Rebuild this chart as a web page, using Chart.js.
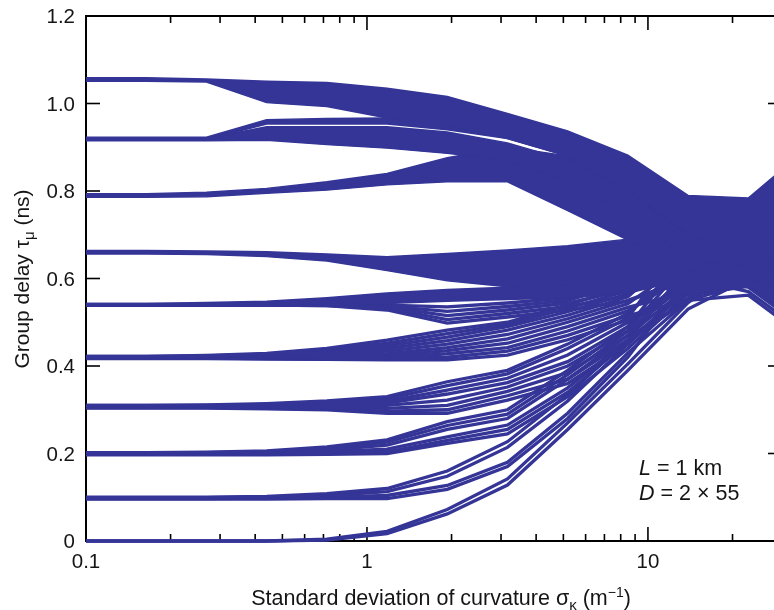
<!DOCTYPE html>
<html><head><meta charset="utf-8">
<script src="https://cdn.jsdelivr.net/npm/chart.js@4.4.1/dist/chart.umd.min.js"></script>
<style>
html,body{margin:0;padding:0;background:#fff;overflow:hidden;width:774px;height:610px;}
#wrap{position:relative;width:790px;height:610px;}
canvas{display:block;}
</style></head><body>
<div id="wrap"><canvas id="c" width="790" height="610"></canvas></div>
<script>
// ---- data (sigma_kappa in 1/m, group delays in ns) ----
const sigma = [0.1, 0.1638, 0.2683, 0.4394, 0.7197, 1.1788, 1.9307, 3.1623, 5.1795, 8.4834, 13.895, 22.758, 37.276];

// mode groups drawn as solid bundles (upper / lower edge of bundle)
const g9Top  = [1.059,1.059,1.056,1.051,1.048,1.035,1.016,0.977,0.937,0.882,0.790,0.784,0.900];
const g9Bot  = [1.051,1.051,1.049,1.002,0.993,0.967,0.950,0.920,0.880,0.800,0.700,0.660,0.600];
const g8aTop = [0.923,0.923,0.923,0.963,0.966,0.967,0.958,0.940,0.910,0.860,0.770,0.750,0.880];
const g8aBot = [0.918,0.918,0.918,0.953,0.953,0.953,0.940,0.920,0.880,0.820,0.700,0.680,0.700];
const g8bTop = [0.920,0.920,0.920,0.947,0.947,0.947,0.935,0.910,0.870,0.800,0.700,0.700,0.720];
const g8bBot = [0.915,0.915,0.915,0.916,0.906,0.898,0.886,0.870,0.820,0.750,0.640,0.630,0.600];
const g7Top  = [0.794,0.794,0.797,0.806,0.821,0.840,0.876,0.900,0.880,0.840,0.760,0.740,0.860];
const g7Bot  = [0.786,0.786,0.787,0.795,0.802,0.814,0.821,0.821,0.755,0.688,0.620,0.600,0.550];
const g6Top  = [0.664,0.664,0.663,0.661,0.656,0.650,0.657,0.665,0.675,0.690,0.780,0.760,0.820];
const g6Bot  = [0.656,0.656,0.655,0.650,0.640,0.618,0.595,0.581,0.585,0.600,0.560,0.580,0.500];
const g5Top  = [0.543,0.543,0.545,0.548,0.556,0.567,0.575,0.580,0.590,0.630,0.720,0.750,0.850];
const g5Bot  = [0.537,0.537,0.537,0.538,0.540,0.543,0.548,0.552,0.556,0.566,0.600,0.620,0.550];

// individual mode curves, group 5 (lower strands)
const g5A = [0.539,0.539,0.539,0.539,0.538,0.528,0.498,0.512,0.528,0.548,0.600,0.660,0.640];
const g5B = [0.539,0.539,0.539,0.539,0.538,0.532,0.506,0.520,0.536,0.560,0.680,0.630,0.520];
const g5C = [0.540,0.540,0.540,0.540,0.539,0.535,0.515,0.528,0.544,0.575,0.650,0.700,0.720];
const g5D = [0.540,0.540,0.540,0.540,0.539,0.537,0.525,0.536,0.550,0.590,0.620,0.590,0.480];
const g5E = [0.541,0.541,0.541,0.541,0.540,0.539,0.535,0.544,0.556,0.600,0.700,0.680,0.600];
// group 4
const g4A = [0.422,0.422,0.424,0.429,0.440,0.459,0.482,0.500,0.540,0.580,0.660,0.720,0.780];
const g4B = [0.422,0.422,0.423,0.427,0.436,0.452,0.474,0.495,0.532,0.572,0.700,0.760,0.840];
const g4C = [0.421,0.421,0.422,0.425,0.432,0.446,0.466,0.490,0.524,0.565,0.630,0.680,0.620];
const g4D = [0.421,0.421,0.421,0.423,0.428,0.440,0.458,0.482,0.516,0.558,0.680,0.650,0.560];
const g4E = [0.420,0.420,0.420,0.421,0.425,0.434,0.450,0.472,0.508,0.550,0.600,0.600,0.500];
const g4F = [0.420,0.420,0.420,0.420,0.422,0.428,0.442,0.462,0.500,0.542,0.640,0.700,0.740];
const g4G = [0.419,0.419,0.419,0.419,0.420,0.423,0.435,0.452,0.490,0.534,0.570,0.640,0.700];
const g4H = [0.419,0.419,0.418,0.418,0.418,0.419,0.428,0.442,0.480,0.526,0.610,0.580,0.480];
const g4I = [0.418,0.418,0.418,0.417,0.416,0.416,0.420,0.434,0.470,0.515,0.550,0.590,0.580];
const g4J = [0.417,0.417,0.417,0.416,0.415,0.414,0.414,0.425,0.460,0.505,0.590,0.670,0.650];
// group 3
const g3A = [0.310,0.310,0.311,0.314,0.320,0.330,0.364,0.390,0.450,0.520,0.640,0.680,0.800];
const g3B = [0.310,0.310,0.310,0.312,0.317,0.325,0.355,0.382,0.440,0.510,0.700,0.720,0.660];
const g3C = [0.309,0.309,0.309,0.310,0.314,0.320,0.345,0.372,0.425,0.500,0.600,0.620,0.560];
const g3D = [0.308,0.308,0.308,0.308,0.311,0.315,0.336,0.362,0.410,0.490,0.660,0.760,0.860];
const g3E = [0.307,0.307,0.307,0.306,0.308,0.310,0.322,0.352,0.400,0.480,0.590,0.710,0.700];
const g3F = [0.306,0.306,0.306,0.305,0.305,0.303,0.310,0.342,0.385,0.470,0.620,0.590,0.540];
const g3G = [0.305,0.305,0.305,0.303,0.302,0.297,0.300,0.332,0.370,0.460,0.550,0.562,0.460];
const g3H = [0.304,0.304,0.304,0.302,0.300,0.292,0.292,0.322,0.360,0.450,0.575,0.660,0.600];
// group 2
const g2A = [0.202,0.202,0.203,0.206,0.215,0.231,0.273,0.300,0.390,0.490,0.600,0.700,0.620];
const g2B = [0.201,0.201,0.202,0.204,0.211,0.226,0.264,0.290,0.380,0.480,0.640,0.740,0.800];
const g2C = [0.200,0.200,0.200,0.202,0.208,0.219,0.255,0.280,0.370,0.470,0.580,0.650,0.750];
const g2D = [0.199,0.199,0.199,0.200,0.204,0.210,0.238,0.265,0.350,0.460,0.620,0.600,0.500];
const g2E = [0.198,0.198,0.198,0.198,0.200,0.204,0.230,0.255,0.340,0.455,0.555,0.680,0.720];
const g2F = [0.197,0.197,0.197,0.197,0.198,0.200,0.223,0.245,0.330,0.440,0.565,0.630,0.660];
// group 1
const g1A = [0.100,0.100,0.100,0.102,0.108,0.120,0.160,0.227,0.335,0.460,0.570,0.620,0.520];
const g1B = [0.099,0.099,0.099,0.100,0.104,0.113,0.148,0.214,0.320,0.450,0.585,0.700,0.760];
const g1C = [0.097,0.097,0.097,0.098,0.100,0.104,0.127,0.180,0.292,0.430,0.550,0.660,0.680];
const g1D = [0.096,0.096,0.096,0.096,0.097,0.097,0.118,0.170,0.280,0.420,0.600,0.570,0.470];
// group 0
const g0A = [0,0,0,0,0.002,0.017,0.062,0.128,0.255,0.390,0.530,0.600,0.560];
const g0B = [0,0,0,0,0.004,0.022,0.072,0.142,0.270,0.405,0.545,0.640,0.610];

// ticks
const xTickValues = [0.1, 1, 10];
const xTickLabels = ['0.1', '1', '10'];
const xMinorTicks = [0.2,0.3,0.4,0.5,0.6,0.7,0.8,0.9,2,3,4,5,6,7,8,9,20,30];
const yTickValues = [0, 0.2, 0.4, 0.6, 0.8, 1.0, 1.2];
const yTickLabels = ['0', '0.2', '0.4', '0.6', '0.8', '1.0', '1.2'];

// ---- build ----
const BLUE = '#343597';
const FONT = '"Liberation Sans", Arial, Helvetica, sans-serif';
const pts = arr => sigma.map((s, i) => ({x: s, y: arr[i]}));

const bands = [[g9Top,g9Bot],[g8aTop,g8aBot],[g8bTop,g8bBot],[g7Top,g7Bot],[g6Top,g6Bot],[g5Top,g5Bot]];
const lines = [g5A,g5B,g5C,g5D,g5E,
  g4A,g4B,g4C,g4D,g4E,g4F,g4G,g4H,g4I,g4J,
  g3A,g3B,g3C,g3D,g3E,g3F,g3G,g3H,
  g2A,g2B,g2C,g2D,g2E,g2F,
  g1A,g1B,g1C,g1D,
  g0A,g0B];

const datasets = [];
bands.forEach(([t, b]) => {
  datasets.push({data: pts(t), borderColor: BLUE, borderWidth: 1.5, fill: false, pointRadius: 0, tension: 0, clip: 4});
  datasets.push({data: pts(b), borderColor: BLUE, backgroundColor: BLUE, borderWidth: 1.5, fill: '-1', pointRadius: 0, tension: 0, clip: 4});
});
lines.forEach(l => datasets.push({data: pts(l), borderColor: BLUE, borderWidth: 3.3, fill: false, pointRadius: 0, tension: 0, clip: 4}));

function seg(ctx, x1, y1, x2, y2){ ctx.beginPath(); ctx.moveTo(x1,y1); ctx.lineTo(x2,y2); ctx.stroke(); }

function richText(ctx, parts, x, y, align){
  // parts: [text, size, dy, style]
  let total = 0;
  parts.forEach(p => { ctx.font = (p[3]||'') + ' ' + p[1] + 'px ' + FONT; total += ctx.measureText(p[0]).width; });
  let cx = align === 'center' ? x - total/2 : x;
  ctx.textAlign = 'left'; ctx.textBaseline = 'alphabetic';
  parts.forEach(p => { ctx.font = (p[3]||'') + ' ' + p[1] + 'px ' + FONT; ctx.fillText(p[0], cx, y + p[2]); cx += ctx.measureText(p[0]).width; });
}

const framePlugin = {
  id: 'frame',
  beforeDatasetsDraw(chart){
    const {ctx, chartArea: a, scales: {x, y}} = chart;
    ctx.save();
    ctx.strokeStyle = '#000'; ctx.lineWidth = 2; ctx.lineCap = 'butt';
    ctx.strokeRect(a.left, a.top, a.right - a.left, a.bottom - a.top);
    ctx.lineWidth = 1.6;
    xTickValues.forEach(v => { const px = x.getPixelForValue(v); seg(ctx, px, a.bottom, px, a.bottom - 14); seg(ctx, px, a.top, px, a.top + 14); });
    xMinorTicks.forEach(v => { const px = x.getPixelForValue(v); seg(ctx, px, a.bottom, px, a.bottom - 7); seg(ctx, px, a.top, px, a.top + 7); });
    yTickValues.forEach(v => { const py = y.getPixelForValue(v); seg(ctx, a.left, py, a.left + 14, py); seg(ctx, a.right, py, a.right - 14, py); });
    ctx.restore();
  },
  afterDraw(chart){
    const {ctx, chartArea: a, scales: {x, y}} = chart;
    ctx.save();
    ctx.fillStyle = '#151515';
    ctx.font = '20.5px ' + FONT;
    ctx.textAlign = 'right'; ctx.textBaseline = 'alphabetic';
    yTickValues.forEach((v, i) => ctx.fillText(yTickLabels[i], a.left - 11, y.getPixelForValue(v) + 7));
    ctx.textAlign = 'center';
    xTickValues.forEach((v, i) => ctx.fillText(xTickLabels[i], x.getPixelForValue(v), a.bottom + 27));
    // x title
    richText(ctx, [['Standard deviation of curvature \u03C3', 21.5, 0], ['\u03BA', 15, 5], [' (m', 21.5, 0], ['\u22121', 14, -8], [')', 21.5, 0]], 441, 605, 'center');
    // y title
    ctx.save();
    ctx.translate(29, 279); ctx.rotate(-Math.PI/2);
    richText(ctx, [['Group delay \u03C4', 21, 0], ['\u03BC', 15, 5], [' (ns)', 21, 0]], 0, 0, 'center');
    ctx.restore();
    // annotation
    richText(ctx, [['L', 21.5, 0, 'italic'], [' = 1 km', 21.5, 0]], 639, 475, 'left');
    richText(ctx, [['D', 21.5, 0, 'italic'], [' = 2 \u00D7 55', 21.5, 0]], 639, 500, 'left');
    ctx.restore();
  }
};

new Chart(document.getElementById('c'), {
  type: 'line',
  data: {datasets},
  options: {
    responsive: false, animation: false, devicePixelRatio: 1,
    layout: {padding: {left: 86, top: 16, right: 8, bottom: 69}},
    plugins: {legend: {display: false}, tooltip: {enabled: false}},
    elements: {line: {borderJoinStyle: 'miter'}},
    scales: {
      x: {type: 'logarithmic', min: 0.1, max: 30, display: false},
      y: {type: 'linear', min: 0, max: 1.2, display: false}
    }
  },
  plugins: [framePlugin]
});
</script>
</body></html>
